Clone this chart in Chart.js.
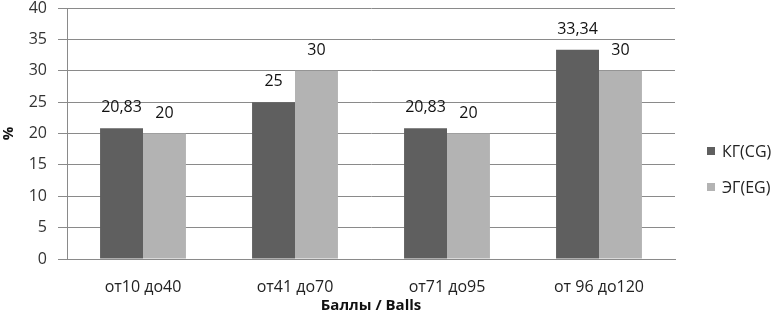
<!DOCTYPE html>
<html>
<head>
<meta charset="utf-8">
<script src="https://cdn.jsdelivr.net/npm/chart.js@4"></script>
<style>
  body { margin: 0; background: #fff; }
  #wrap { width: 781px; height: 327px; }
</style>
</head>
<body>
<div id="wrap"><canvas id="myChart" width="781" height="327"></canvas></div>
<script>
// values
const categories = ['от10 до40', 'от41 до70', 'от71 до95', 'от 96 до120']
const kgValues = [20.83, 25, 20.83, 33.34]
const egValues = [20, 30, 20, 30]
const seriesNames = ['КГ(CG)', 'ЭГ(EG)']
const yTicks = [0, 5, 10, 15, 20, 25, 30, 35, 40]

const fontName = "'Open Sans', 'Liberation Sans', sans-serif"

// value above each bar, with a comma as decimal mark
const valueLabels = {
  id: 'valueLabels',
  afterDatasetsDraw(chart) {
    let ctx = chart.ctx
    ctx.save()
    ctx.font = '16px ' + fontName
    ctx.fillStyle = '#111'
    ctx.textAlign = 'center'
    ctx.textBaseline = 'alphabetic'
    chart.data.datasets.forEach((ds, i) => {
      chart.getDatasetMeta(i).data.forEach((bar, j) => {
        let txt = String(ds.data[j]).replace('.', ',')
        ctx.fillText(txt, bar.x, bar.y - 16)
      })
    })
    ctx.restore()
  }
}

// legend on the right, Excel style
const sideLegend = {
  id: 'sideLegend',
  afterDraw(chart) {
    let ctx = chart.ctx
    ctx.save()
    ctx.font = '16px ' + fontName
    ctx.textBaseline = 'middle'
    ctx.textAlign = 'left'
    chart.data.datasets.forEach((ds, i) => {
      let y = 151 + i * 36
      ctx.fillStyle = ds.backgroundColor
      ctx.fillRect(707, y - 4, 8, 8)
      ctx.fillStyle = '#222'
      ctx.fillText(ds.label, 722, y + 1)
    })
    ctx.restore()
  }
}

let data = {
  labels: categories,
  datasets: [{
    label: seriesNames[0],
    backgroundColor: '#5f5f5f',
    borderColor: '#555',
    borderWidth: 0,
    data: kgValues,
    categoryPercentage: 0.565,
    barPercentage: 1
  }, {
    label: seriesNames[1],
    backgroundColor: '#b3b3b3',
    borderWidth: 0,
    data: egValues,
    categoryPercentage: 0.565,
    barPercentage: 1
  }]
}

const config = {
  type: 'bar',
  data,
  options: {
    responsive: false,
    animation: false,
    devicePixelRatio: 1,
    layout: { padding: { top: 8, right: 106, left: 0, bottom: 0 } },
    plugins: {
      legend: { display: false },
      tooltip: { enabled: false }
    },
    scales: {
      x: {
        grid: { display: false, drawTicks: false },
        border: { display: true, color: '#8a8a8a', width: 1 },
        ticks: { color: '#222', font: { size: 16, family: fontName }, padding: 19, maxRotation: 0 },
        title: {
          display: true,
          text: 'Баллы / Balls',
          color: '#111',
          font: { size: 15, weight: 'bold', family: fontName },
          padding: { top: 0, bottom: 12 }
        },
        afterFit(scale) {
          scale.height = 68
          scale.paddingLeft = 0
          scale.paddingRight = 0
        }
      },
      y: {
        min: 0,
        max: 40,
        afterBuildTicks(scale) { scale.ticks = yTicks.map(v => ({ value: v })) },
        grid: { color: '#8a8a8a', tickLength: 9, tickColor: '#8a8a8a' },
        border: { display: true, color: '#8a8a8a' },
        ticks: { color: '#333', font: { size: 16, family: fontName }, padding: 11 },
        title: {
          display: true,
          text: '%',
          color: '#111',
          font: { size: 15, weight: 'bold', family: fontName },
          padding: { top: 0, bottom: 0 }
        },
        afterFit(scale) {
          scale.width = 67
          scale.paddingTop = 0
          scale.paddingBottom = 0
        }
      }
    }
  },
  plugins: [valueLabels, sideLegend]
}

window.myChart = new Chart(document.getElementById('myChart'), config)
</script>
</body>
</html>
